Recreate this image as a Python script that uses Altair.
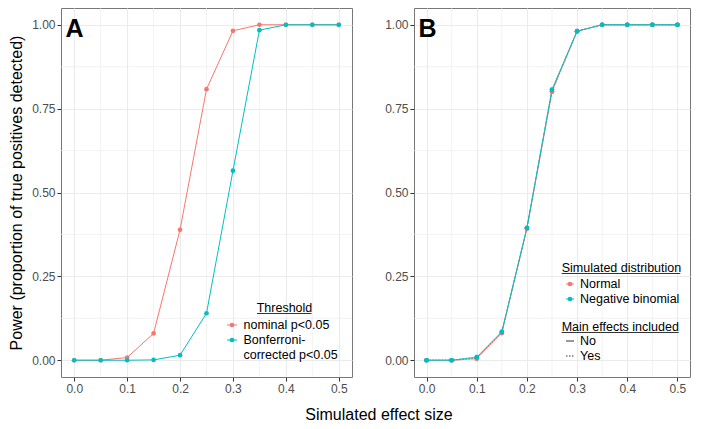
import altair as alt
import pandas as pd

# ---------------- data ----------------
effect = [0.0, 0.05, 0.1, 0.15, 0.2, 0.25, 0.3, 0.35, 0.4, 0.45, 0.5]

threshold_labels = ["nominal p<0.05", "Bonferroni-\ncorrected p<0.05"]
nominal = [0.0, 0.0, 0.008, 0.080, 0.389, 0.808, 0.982, 1.0, 1.0, 1.0, 1.0]
bonferroni = [0.0, 0.0, 0.0, 0.001, 0.015, 0.140, 0.565, 0.984, 1.0, 1.0, 1.0]

dist_labels = ["Normal", "Negative binomial"]
main_labels = ["No", "Yes"]
normal_no = [0.0, 0.0, 0.005, 0.082, 0.393, 0.801, 0.981, 1.0, 1.0, 1.0, 1.0]
normal_yes = [0.0, 0.0, 0.005, 0.081, 0.392, 0.800, 0.981, 1.0, 1.0, 1.0, 1.0]
nb_no = [0.0, 0.0, 0.009, 0.085, 0.395, 0.807, 0.981, 1.0, 1.0, 1.0, 1.0]
nb_yes = [0.0, 0.0, 0.009, 0.084, 0.394, 0.806, 0.981, 1.0, 1.0, 1.0, 1.0]

x_ticks = [0.0, 0.1, 0.2, 0.3, 0.4, 0.5]
x_minor = [0.05, 0.15, 0.25, 0.35, 0.45]
y_ticks = [0.0, 0.25, 0.5, 0.75, 1.0]
y_minor = [0.125, 0.375, 0.625, 0.875]

RED = "#F8766D"
TEAL = "#00BFC4"
FONT = "Liberation Sans"
GRID = "#EBEBEB"

dfA = pd.DataFrame({
    "effect": effect * 2,
    "power": nominal + bonferroni,
    "threshold": [threshold_labels[0]] * len(effect) + [threshold_labels[1]] * len(effect),
})
rows = []
for d, m, vals in [(dist_labels[0], "No", normal_no), (dist_labels[0], "Yes", normal_yes),
                   (dist_labels[1], "No", nb_no), (dist_labels[1], "Yes", nb_yes)]:
    for e, v in zip(effect, vals):
        rows.append({"effect": e, "power": v, "dist": d, "main": m})
dfB = pd.DataFrame(rows)

one = pd.DataFrame({"k": [0]})
W_A, W_B, H = 291, 276, 369


def xenc():
    return alt.X("effect:Q",
                 scale=alt.Scale(domain=[-0.025, 0.525], nice=False, zero=False),
                 axis=alt.Axis(values=x_ticks, format=".1f", title=None))


def yenc(title):
    return alt.Y("power:Q",
                 scale=alt.Scale(domain=[-0.05, 1.05], nice=False, zero=False),
                 axis=alt.Axis(values=y_ticks, format=".2f", title=title,
                               titleFontSize=16, titleFontWeight="normal",
                               titleColor="#000000", titlePadding=7))


def minor_grid(title):
    gx = alt.Chart(pd.DataFrame({"effect": x_minor})).mark_rule(
        color=GRID, strokeWidth=0.6).encode(x=xenc())
    gy = alt.Chart(pd.DataFrame({"power": y_minor})).mark_rule(
        color=GRID, strokeWidth=0.6).encode(y=yenc(title))
    return [gx, gy]


def txt(label, x, y, size=12.5, align="left", weight="normal", baseline="middle"):
    return alt.Chart(one).mark_text(
        align=align, baseline=baseline, fontSize=size, font=FONT,
        fontWeight=weight, color="#000000").encode(
        x=alt.value(x), y=alt.value(y), text=alt.value(label))


def hline(x1, x2, y, color, width=1.0, dash=None):
    kw = {"color": color, "strokeWidth": width}
    if dash is not None:
        kw["strokeDash"] = dash
    return alt.Chart(one).mark_rule(**kw).encode(
        x=alt.value(x1), x2=alt.value(x2), y=alt.value(y))


def dot(x, y, color):
    return alt.Chart(one).mark_point(filled=True, size=22, opacity=1, color=color).encode(
        x=alt.value(x), y=alt.value(y))


# ---------------- panel A ----------------
ytitle = "Power (proportion of true positives detected)"
colA = alt.Color("threshold:N", scale=alt.Scale(domain=threshold_labels, range=[RED, TEAL]),
                 legend=None)
lineA = alt.Chart(dfA).mark_line(strokeWidth=1).encode(
    x=xenc(), y=yenc(ytitle), color=colA)
ptA = alt.Chart(dfA).mark_point(filled=True, size=22, opacity=1).encode(
    x=xenc(), y=yenc(ytitle), color=colA)

legA = [
    txt("Threshold", 223.5, 299.5, align="center"),
    hline(196, 250.5, 305.5, "#000000", 0.8),
]
for lab, col, yy in [(threshold_labels[0], RED, 317), (threshold_labels[1], TEAL, 332)]:
    legA.append(hline(166, 176, yy, col))
    legA.append(dot(171, yy, col))
    for j, part in enumerate(lab.split("\n")):
        legA.append(txt(part, 182.5, yy + 14.5 * j))

panelA = alt.layer(
    *minor_grid(ytitle), lineA, ptA,
    txt("A", 4.5, 29, size=25, weight="bold", baseline="alphabetic"),
    *legA,
).properties(width=W_A, height=H)

# ---------------- panel B ----------------
colB = alt.Color("dist:N", scale=alt.Scale(domain=dist_labels, range=[RED, TEAL]), legend=None)
dashB = alt.StrokeDash("main:N", scale=alt.Scale(domain=main_labels, range=[[1, 0], [1.5, 1.5]]),
                       legend=None)
layersB = []
for d in dist_labels:
    sub = dfB[dfB["dist"] == d]
    layersB.append(alt.Chart(sub).mark_line(strokeWidth=1).encode(
        x=xenc(), y=yenc(None), color=colB, strokeDash=dashB))
for d in dist_labels:
    sub = dfB[dfB["dist"] == d]
    layersB.append(alt.Chart(sub).mark_point(filled=True, size=22, opacity=1).encode(
        x=xenc(), y=yenc(None), color=colB))

legB = [
    txt("Simulated distribution", 147.7, 260),
    hline(147.7, 266.3, 265.5, "#000000", 0.8),
]
for lab, col, yy in [(dist_labels[0], RED, 276), (dist_labels[1], TEAL, 291)]:
    legB.append(hline(152, 160, yy, col))
    legB.append(dot(156, yy, col))
    legB.append(txt(lab, 166, yy))
legB.append(txt("Main effects included", 147.7, 319))
legB.append(hline(147.7, 264.7, 324.5, "#000000", 0.8))
for lab, dash, yy in [(main_labels[0], None, 333), (main_labels[1], [1.5, 1.5], 348)]:
    legB.append(hline(152, 160, yy, "#333333", 1.0, dash))
    legB.append(txt(lab, 166, yy))

panelB = alt.layer(
    *minor_grid(None), *layersB,
    txt("B", 4.5, 29, size=25, weight="bold", baseline="alphabetic"),
    *legB,
).properties(width=W_B, height=H)

chart = alt.hconcat(panelA, panelB, spacing=31).resolve_scale(
    color="independent", strokeDash="independent"
).properties(
    padding={"left": 0, "top": -1, "right": 0, "bottom": 0},
    title=alt.TitleParams("Simulated effect size", orient="bottom", anchor="middle",
                          fontSize=16, fontWeight="normal", color="#000000",
                          font=FONT, dx=29.5, offset=12),
).configure(font=FONT).configure_view(
    stroke="#777777", strokeWidth=1
).configure_axis(
    labelFont=FONT, labelFontSize=12, labelColor="#4D4D4D", labelPadding=2,
    tickColor="#333333", tickSize=4, tickWidth=1, domain=False,
    grid=True, gridColor=GRID, gridWidth=1.1, titleFont=FONT,
)

chart.save("out.html", embed_options={"renderer": "svg", "actions": False})
